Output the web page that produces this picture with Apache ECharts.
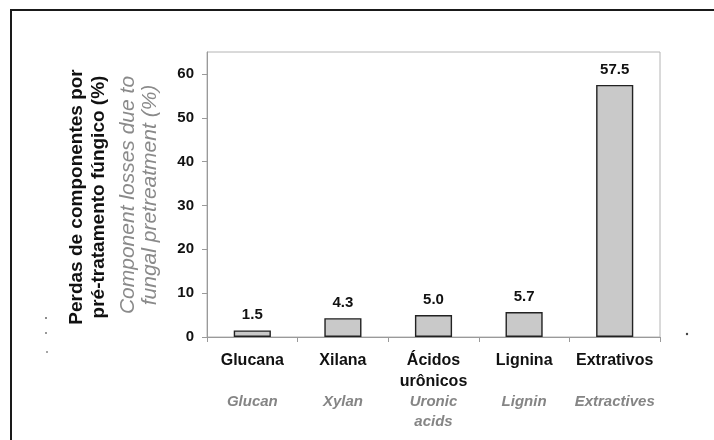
<!DOCTYPE html>
<html>
<head>
<meta charset="utf-8">
<script src="https://cdn.jsdelivr.net/npm/echarts@6/dist/echarts.min.js"></script>
<style>
  html, body { margin: 0; padding: 0; background: #fff; }
  #chart { width: 714px; height: 440px; }
</style>
</head>
<body>
<div id="chart"></div>
<script>
// Component names (Portuguese, with English translation underneath)
const categoriesPt = ['Glucana', 'Xilana', 'Ácidos\nurônicos', 'Lignina', 'Extrativos'];
const categoriesEn = ['Glucan', 'Xylan', 'Uronic\nacids', 'Lignin', 'Extractives'];
// Component losses due to fungal pretreatment (%)
const losses = [1.5, 4.3, 5.0, 5.7, 57.5];
// Y axis ticks
const yTicks = [0, 10, 20, 30, 40, 50, 60];

const FONT = '"Liberation Sans", Arial, Helvetica, sans-serif';

// Each category label has two Portuguese lines and two English lines,
// padded so every block lines up.
function categoryLabel(value, index) {
  const pt = categoriesPt[index].split('\n');
  const en = categoriesEn[index].split('\n');
  while (pt.length < 2) pt.push(' ');
  while (en.length < 2) en.push(' ');
  return pt.map(s => '{pt|' + s + '}').concat(en.map(s => '{en|' + s + '}')).join('\n');
}

const chart = echarts.init(document.getElementById('chart'), null, { renderer: 'canvas' });

chart.setOption({
  animation: false,
  backgroundColor: '#ffffff',
  grid: {
    left: 207, right: 54, top: 52, bottom: 103,
    show: true, borderColor: '#b4b4b4', borderWidth: 1, backgroundColor: 'transparent'
  },
  xAxis: {
    type: 'category',
    data: categoriesPt,
    axisLine: { lineStyle: { color: '#9a9a9a', width: 1 } },
    axisTick: { show: true, length: 5, lineStyle: { color: '#9a9a9a' } },
    axisLabel: {
      margin: 13,
      interval: 0,
      formatter: categoryLabel,
      rich: {
        pt: { fontFamily: FONT, fontSize: 16, fontWeight: 'bold', color: '#111', lineHeight: 21, align: 'center' },
        en: { fontFamily: FONT, fontSize: 15, fontWeight: 'bold', fontStyle: 'italic', color: '#858585', lineHeight: 20, align: 'center' }
      }
    },
    splitLine: { show: false }
  },
  yAxis: {
    type: 'value',
    min: 0, max: 65, interval: 10,
    axisLine: { show: true, lineStyle: { color: '#9a9a9a', width: 1 } },
    axisTick: { show: true, length: 5, customValues: yTicks, lineStyle: { color: '#9a9a9a' } },
    axisLabel: {
      customValues: yTicks,
      margin: 13,
      fontFamily: FONT, fontSize: 15, fontWeight: 'bold', color: '#111'
    },
    splitLine: { show: false }
  },
  series: [{
    type: 'bar',
    data: losses,
    barWidth: '41%',
    itemStyle: { color: '#c9c9c9', borderColor: '#222', borderWidth: 1.4 },
    label: {
      show: true,
      position: 'top',
      distance: 8,
      formatter: p => p.value.toFixed(1),
      fontFamily: FONT, fontSize: 15, fontWeight: 'bold', color: '#111'
    }
  }],
  graphic: [
    // outer frame
    { type: 'rect', shape: { x: 11, y: 10, width: 760, height: 500 },
      style: { fill: 'none', stroke: '#1a1a1a', lineWidth: 2 }, silent: true },
    // y axis titles (rotated)
    { type: 'text', x: 77, y: 197, rotation: Math.PI / 2,
      style: { text: 'Perdas de componentes por', font: 'bold 19px ' + FONT, fill: '#111',
               textAlign: 'center', textVerticalAlign: 'middle' } },
    { type: 'text', x: 99, y: 197, rotation: Math.PI / 2,
      style: { text: 'pré-tratamento fúngico (%)', font: 'bold 19px ' + FONT, fill: '#111',
               textAlign: 'center', textVerticalAlign: 'middle' } },
    { type: 'text', x: 128, y: 195, rotation: Math.PI / 2,
      style: { text: 'Component losses due to', font: 'italic 21px ' + FONT, fill: '#8a8a8a',
               textAlign: 'center', textVerticalAlign: 'middle' } },
    { type: 'text', x: 150, y: 195, rotation: Math.PI / 2,
      style: { text: 'fungal pretreatment (%)', font: 'italic 21px ' + FONT, fill: '#8a8a8a',
               textAlign: 'center', textVerticalAlign: 'middle' } },
    // small specks
    { type: 'circle', shape: { cx: 46, cy: 318, r: 1 }, style: { fill: '#666' }, silent: true },
    { type: 'circle', shape: { cx: 46, cy: 333, r: 1 }, style: { fill: '#777' }, silent: true },
    { type: 'circle', shape: { cx: 47, cy: 352, r: 1 }, style: { fill: '#888' }, silent: true },
    { type: 'circle', shape: { cx: 687, cy: 334, r: 1.2 }, style: { fill: '#444' }, silent: true }
  ]
});
</script>
</body>
</html>
